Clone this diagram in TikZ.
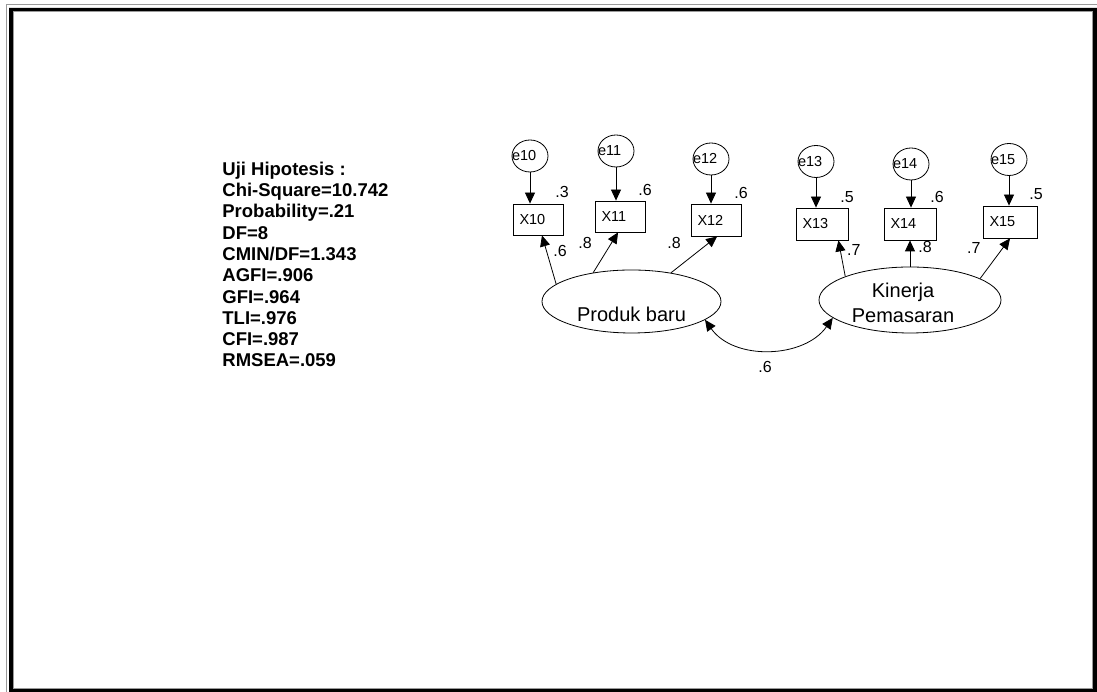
\documentclass[tikz,border=0pt]{standalone}
\usepackage{fontspec}
\setmainfont{Liberation Sans}
\usetikzlibrary{arrows.meta, shapes.geometric}
\definecolor{cframe}{HTML}{9A9A9A}
\tikzset{
  every picture/.style={x=1pt, y=1pt, line width=0.8pt},
  err/.style={draw, ellipse, minimum width=36pt, minimum height=32pt, inner sep=0pt},
  errlabel/.style={anchor=west, inner sep=0pt, font=\fontsize{14.5}{16}\selectfont},
  obs/.style={draw, rectangle, inner xsep=6.5pt, inner ysep=0pt, minimum height=31pt, text width=#1, align=left, font=\fontsize{14.5}{16}\selectfont},
  obs/.default=37pt,
  latent/.style={draw, ellipse, inner sep=0pt},
  latlabel/.style={font=\fontsize{20}{25}\selectfont, align=center, inner sep=0pt},
  num/.style={anchor=base west, inner sep=0pt, font=\fontsize{16}{18}\selectfont},
  arrow/.style={-{Triangle[length=11pt, width=10pt]}},
  stats/.style={anchor=north west, inner sep=0pt, align=left, font=\bfseries\fontsize{18.5}{21.3}\selectfont},
}
\begin{document}
\begin{tikzpicture}
  \useasboundingbox (0,0) rectangle (1097,692);
  % frame
  \fill[black, even odd rule] (9,0) rectangle (1097,684) (13,3) rectangle (1093,681);
  \draw[cframe, line width=0.7pt] (6.5,0) -- (6.5,687.5) -- (1097,687.5);
  \draw[cframe, line width=0.7pt] (13.5,3.5) rectangle (1092.5,680.5);
  % fit statistics
  \node[stats] (fit) at (222,530.5) {Uji Hipotesis :\\Chi-Square=10.742\\Probability=.21\\DF=8\\CMIN/DF=1.343\\AGFI=.906\\GFI=.964\\TLI=.976\\CFI=.987\\RMSEA=.059};
  % latent variables
  \node[latent, minimum width=179pt, minimum height=63pt, label={[latlabel, yshift=-12.5pt]center:Produk baru}] (pb) at (631.5,390.5) {};
  \node[latent, minimum width=182pt, minimum height=66pt, label={[latlabel, xshift=-7pt, yshift=-3pt]center:Kinerja\\Pemasaran}] (kp) at (910,392) {};
  % indicators
  \node[obs] (x10) at (538,472.5) {X10};
  \node[obs] (x11) at (620,475.5) {X11};
  \node[obs, minimum height=32pt] (x12) at (716,472) {X12};
  \node[obs=39pt, minimum height=32pt] (x13) at (822,468) {X13};
  \node[obs=39pt, minimum height=32pt] (x14) at (910,468) {X14};
  \node[obs=41pt, minimum height=32pt] (x15) at (1010,470) {X15};
  % errors
  \node[err, label={[errlabel]west:e10}] (e10) at (530,536) {};
  \node[err, label={[errlabel]west:e11}] (e11) at (616,541) {};
  \node[err, label={[errlabel]west:e12}] (e12) at (711,533) {};
  \node[err, label={[errlabel]west:e13}] (e13) at (816,530.5) {};
  \node[err, label={[errlabel]west:e14}] (e14) at (911,528) {};
  \node[err, label={[errlabel]west:e15}] (e15) at (1009,532.5) {};
  \foreach \i in {10,...,15}
    \draw[arrow] (e\i) -- (e\i |- x\i.north);
  % loadings
  \draw[arrow] (pb.167) -- (x10.-76);
  \draw[arrow] (pb.143) -- (x11.-97);
  \draw[arrow] (pb.36) -- (x12.-86);
  \draw[arrow] (kp.160) -- (x13.-45);
  \draw[arrow] (kp.north) -- (x14.south);
  \draw[arrow] (kp.17) -- (x15.south);
  % correlation
  \draw[{Triangle[length=11pt, width=10pt]}-{Triangle[length=11pt, width=10pt]}] (pb.-14) to[out=-55, in=-125] (kp.193);
  % estimates
  \node[num] (r10) at (555,494) {.3};
  \node[num] (r11) at (638,496.3) {.6};
  \node[num] (r12) at (734,493.5) {.6};
  \node[num] (r13) at (840,489) {.5};
  \node[num] (r14) at (930,489.3) {.6};
  \node[num] (r15) at (1029,492) {.5};
  \node[num] (l10) at (553,435.3) {.6};
  \node[num] (l11) at (578,443.7) {.8};
  \node[num] (l12) at (667,443) {.8};
  \node[num] (l13) at (846.7,436) {.7};
  \node[num] (l14) at (918,439.3) {.8};
  \node[num] (l15) at (966.7,438) {.7};
  \node[num] (cov) at (758,319) {.6};
\end{tikzpicture}
\end{document}
